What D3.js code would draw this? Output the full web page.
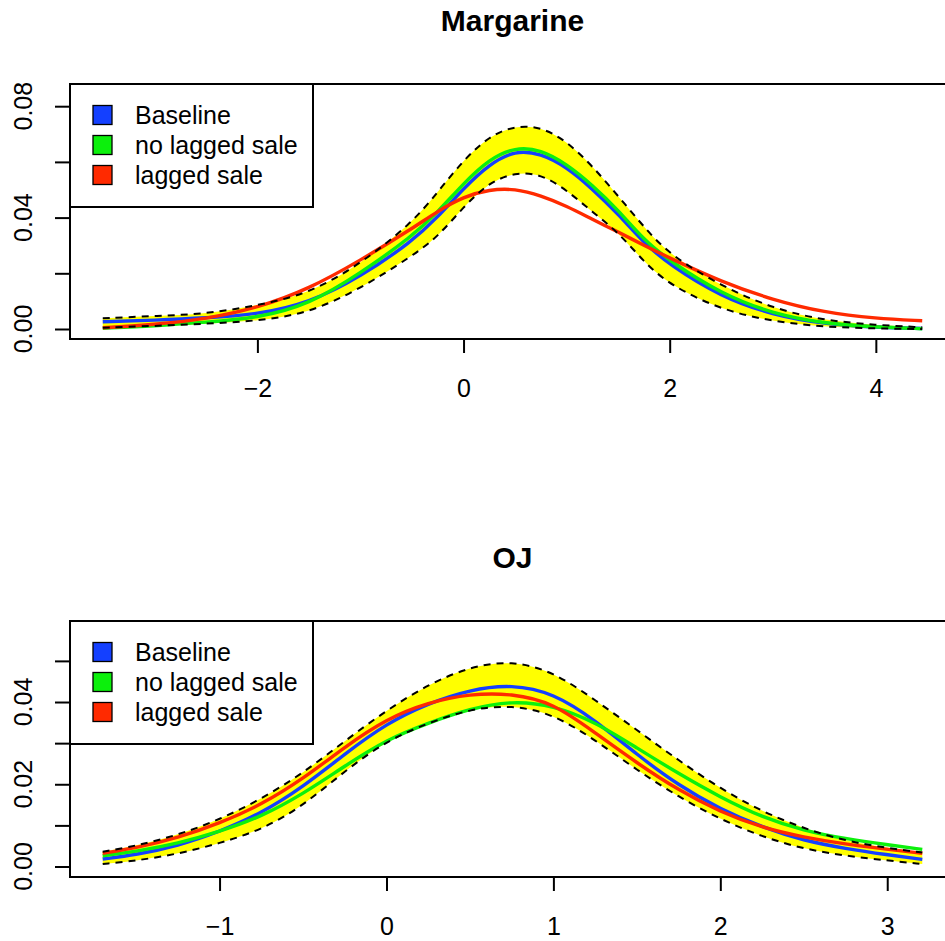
<!DOCTYPE html>
<html>
<head>
<meta charset="utf-8">
<script src="https://cdn.jsdelivr.net/npm/d3@7"></script>
<style>
  html, body { margin: 0; padding: 0; background: #fff; }
  svg { display: block; font-family: "Liberation Sans", Arial, Helvetica, sans-serif; }
</style>
</head>
<body>
<svg id="chart" width="945" height="941"></svg>
<script>
// ---------- Data ----------
const seriesNames = ["Baseline", "no lagged sale", "lagged sale"];

// Margarine panel
const margX        = [-3.5, -3.0, -2.5, -2.0, -1.5, -1.0, -0.5, -0.25, 0, 0.25, 0.5, 0.75, 1.0, 1.25, 1.5, 1.75, 2.0, 2.5, 3.0, 3.5, 4.0, 4.45];
const margBaseline = [0.00262, 0.00316, 0.00395, 0.00521, 0.00934, 0.01867, 0.03145, 0.04014, 0.05052, 0.05920, 0.06420, 0.06300, 0.05817, 0.05027, 0.04129, 0.03088, 0.02298, 0.01149, 0.00503, 0.00180, 0.00061, 0.00018];
const margNoLag    = [0.00025, 0.00108, 0.00244, 0.00395, 0.00876, 0.02000, 0.03325, 0.04194, 0.05232, 0.06100, 0.06530, 0.06440, 0.05925, 0.05171, 0.04273, 0.03196, 0.02442, 0.01257, 0.00549, 0.00197, 0.00072, 0.00011];
const margLag      = [0.00047, 0.00154, 0.00359, 0.00754, 0.01436, 0.02463, 0.03601, 0.04237, 0.04750, 0.05010, 0.05040, 0.04790, 0.04417, 0.03939, 0.03483, 0.03005, 0.02549, 0.01698, 0.01041, 0.00592, 0.00377, 0.00298];
const margUpper    = [0.00384, 0.00467, 0.00540, 0.00844, 0.01268, 0.02334, 0.03800, 0.04919, 0.06068, 0.06930, 0.07300, 0.07260, 0.06750, 0.05853, 0.04776, 0.03662, 0.02657, 0.01544, 0.00736, 0.00305, 0.00144, 0.00061];
const margLower    = [0.00047, 0.00108, 0.00190, 0.00287, 0.00567, 0.01447, 0.02621, 0.03303, 0.04391, 0.05270, 0.05620, 0.05570, 0.04991, 0.04201, 0.03483, 0.02406, 0.01580, 0.00682, 0.00273, 0.00072, 0.00018, 0.00000];
const margXTicks   = [-2, 0, 2, 4];
const margYTicks   = [0, 0.02, 0.04, 0.06, 0.08];
const margYLabels  = ["0.00", "", "0.04", "", "0.08"];

// OJ panel
const ojX        = [-1.7, -1.5, -1.25, -1.0, -0.75, -0.5, -0.25, 0, 0.25, 0.5, 0.75, 1.0, 1.25, 1.5, 1.75, 2.0, 2.25, 2.5, 2.75, 3.0, 3.21];
const ojBaseline = [0.00182, 0.00285, 0.00501, 0.00847, 0.01294, 0.01934, 0.02737, 0.03479, 0.03970, 0.04300, 0.04430, 0.04220, 0.03560, 0.02720, 0.01971, 0.01392, 0.00956, 0.00628, 0.00436, 0.00285, 0.00175];
const ojNoLag    = [0.00263, 0.00367, 0.00560, 0.00847, 0.01212, 0.01764, 0.02445, 0.03085, 0.03489, 0.03840, 0.04030, 0.03920, 0.03516, 0.02883, 0.02258, 0.01684, 0.01200, 0.00871, 0.00674, 0.00528, 0.00418];
const ojLag      = [0.00321, 0.00453, 0.00693, 0.01051, 0.01500, 0.02129, 0.02908, 0.03591, 0.03990, 0.04200, 0.04210, 0.03980, 0.03250, 0.02518, 0.01854, 0.01326, 0.00942, 0.00710, 0.00543, 0.00418, 0.00321];
const ojUpper    = [0.00360, 0.00500, 0.00765, 0.01140, 0.01640, 0.02270, 0.03050, 0.03800, 0.04430, 0.04860, 0.05010, 0.04740, 0.04050, 0.03320, 0.02580, 0.01895, 0.01335, 0.00925, 0.00620, 0.00450, 0.00340];
const ojLower    = [0.00061, 0.00141, 0.00304, 0.00564, 0.00888, 0.01472, 0.02324, 0.03056, 0.03494, 0.03830, 0.03930, 0.03710, 0.03078, 0.02348, 0.01691, 0.01148, 0.00723, 0.00426, 0.00260, 0.00146, 0.00061];
const ojXTicks   = [-1, 0, 1, 2, 3];
const ojYTicks   = [0, 0.01, 0.02, 0.03, 0.04, 0.05];
const ojYLabels  = ["0.00", "", "0.02", "", "0.04", ""];

// ---------- Styling ----------
const colors = { base: "#1440ff", nolag: "#0cf00c", lag: "#ff2a00", band: "#ffff00" };
const FONT = 25;

const svg = d3.select("#chart");

function fmtTick(v) {
  return d3.format("d")(v).replace("-", "\u2212");
}

function panel(opts) {
  const { title, titleY, top, bottom, left, right, xs, base, nolag, lag, up, lo,
          xDomain, yDomain, xTicks, yTicks, yLabels, legendTop } = opts;
  const x = d3.scaleLinear().domain(xDomain).range([left, right]);
  const y = d3.scaleLinear().domain(yDomain).range([bottom, top]);
  const g = svg.append("g");

  const idx = d3.range(xs.length);
  const curve = d3.curveBasis;

  // confidence band
  g.append("path")
    .datum(idx)
    .attr("fill", colors.band)
    .attr("stroke", "none")
    .attr("d", d3.area().curve(curve)
      .x(i => x(xs[i])).y0(i => y(lo[i])).y1(i => y(up[i])));

  const line = arr => d3.line().curve(curve).x(i => x(xs[i])).y(i => y(arr[i]))(idx);

  [[base, colors.base], [nolag, colors.nolag], [lag, colors.lag]].forEach(([arr, c]) => {
    g.append("path").attr("d", line(arr)).attr("fill", "none")
      .attr("stroke", c).attr("stroke-width", 3.4).attr("stroke-linejoin", "round");
  });
  [up, lo].forEach(arr => {
    g.append("path").attr("d", line(arr)).attr("fill", "none")
      .attr("stroke", "#000").attr("stroke-width", 2).attr("stroke-dasharray", "7,6");
  });

  // box
  g.append("rect").attr("x", left).attr("y", top)
    .attr("width", right - left).attr("height", bottom - top)
    .attr("fill", "none").attr("stroke", "#000").attr("stroke-width", 2);

  // x axis
  const xa = g.append("g").attr("transform", `translate(0,${bottom})`)
    .call(d3.axisBottom(x).tickValues(xTicks).tickSize(14).tickSizeOuter(0)
      .tickPadding(26).tickFormat(fmtTick));
  xa.select(".domain").remove();
  xa.selectAll("line").attr("stroke", "#000").attr("stroke-width", 2);
  xa.selectAll("text").attr("font-size", FONT).attr("fill", "#000")
    .attr("font-family", "Liberation Sans, Arial, sans-serif");

  // y axis
  const ya = g.append("g").attr("transform", `translate(${left},0)`)
    .call(d3.axisLeft(y).tickValues(yTicks).tickSize(15).tickSizeOuter(0).tickFormat(() => ""));
  ya.select(".domain").remove();
  ya.selectAll("line").attr("stroke", "#000").attr("stroke-width", 2);
  yTicks.forEach((v, i) => {
    if (!yLabels[i]) return;
    g.append("text")
      .attr("transform", `translate(32,${y(v)}) rotate(-90)`)
      .attr("text-anchor", "middle")
      .attr("font-size", FONT)
      .attr("fill", "#000")
      .text(yLabels[i]);
  });

  // title
  g.append("text").attr("x", (left + right) / 2).attr("y", titleY)
    .attr("text-anchor", "middle").attr("font-size", 30).attr("font-weight", "bold")
    .attr("fill", "#000").text(title);

  // legend
  const lg = g.append("g");
  lg.append("rect").attr("x", left).attr("y", legendTop).attr("width", 243).attr("height", 123)
    .attr("fill", "#fff").attr("stroke", "#000").attr("stroke-width", 2);
  [colors.base, colors.nolag, colors.lag].forEach((c, i) => {
    const cy = legendTop + 31 + i * 30;
    lg.append("rect").attr("x", 93).attr("y", cy - 9.5).attr("width", 19).attr("height", 19)
      .attr("fill", c).attr("stroke", "#000").attr("stroke-width", 1.3);
    lg.append("text").attr("x", 135).attr("y", cy + 9.3).attr("font-size", FONT)
      .attr("fill", "#000").text(seriesNames[i]);
  });
}

panel({
  title: "Margarine", titleY: 31, top: 84, bottom: 339, left: 70, right: 955,
  xs: margX, base: margBaseline, nolag: margNoLag, lag: margLag, up: margUpper, lo: margLower,
  xDomain: [-3.818, 4.768], yDomain: [-0.00359, 0.08797],
  xTicks: margXTicks, yTicks: margYTicks, yLabels: margYLabels, legendTop: 84
});

panel({
  title: "OJ", titleY: 568, top: 621, bottom: 877, left: 70, right: 955,
  xs: ojX, base: ojBaseline, nolag: ojNoLag, lag: ojLag, up: ojUpper, lo: ojLower,
  xDomain: [-1.896, 3.406], yDomain: [-0.00255, 0.0597],
  xTicks: ojXTicks, yTicks: ojYTicks, yLabels: ojYLabels, legendTop: 621
});
</script>
</body>
</html>
